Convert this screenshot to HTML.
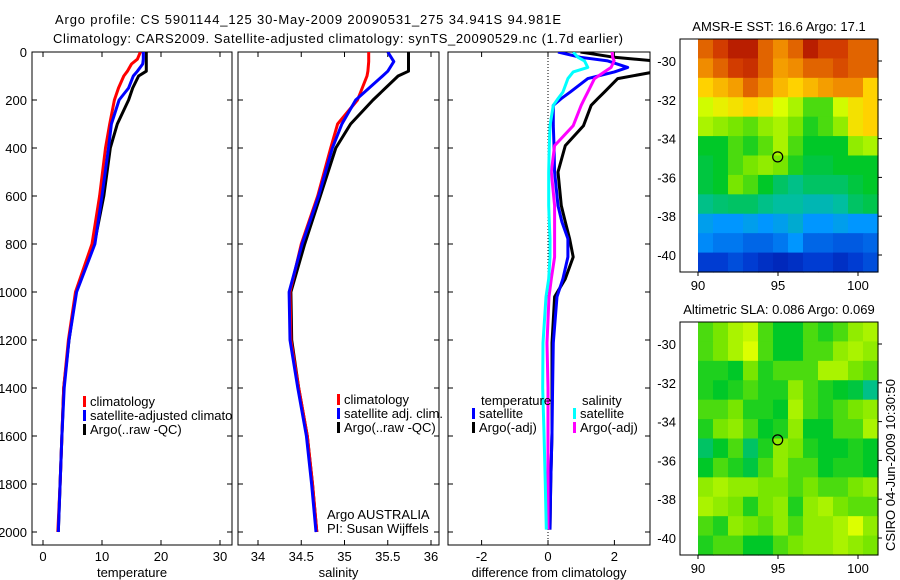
<!DOCTYPE html>
<html><head><meta charset="utf-8">
<style>
html,body{margin:0;padding:0;background:#fff;}
svg{display:block;font-family:"Liberation Sans",sans-serif;}
text{font-size:13px;fill:#000;}
</style></head>
<body>
<svg id="fig" width="900" height="580" viewBox="0 0 900 580" xmlns="http://www.w3.org/2000/svg">
<text x="55" y="24" font-size="14" textLength="506">Argo profile: CS 5901144_125 30-May-2009 20090531_275 34.941S 94.981E</text>
<text x="53" y="43" font-size="14" textLength="570">Climatology: CARS2009. Satellite-adjusted climatology: synTS_20090529.nc (1.7d earlier)</text>
<g id="layer"></g>
</svg>
<script>
// ---- data ----
const tempDepth = [0, 30, 50, 80, 100, 150, 200, 300, 400, 600, 800, 1000, 1200, 1400, 1600, 1800, 2000];
const tempClim  = [16.5, 16.0, 15.0, 14.3, 13.7, 12.8, 12.1, 11.3, 10.6, 9.6, 8.3, 5.5, 4.3, 3.5, 3.2, 2.9, 2.5];
const tempSat   = [17.0, 17.0, 16.9, 16.0, 15.3, 14.5, 12.9, 11.6, 11.1, 10.0, 8.8, 5.7, 4.4, 3.6, 3.2, 2.9, 2.6];
const tempArgo  = [17.5, 17.5, 17.5, 17.5, 16.2, 15.2, 14.5, 12.6, 11.4, 10.3, 8.7, 5.6, 4.4, 3.5, 3.2, 2.9, 2.6];
const salDepth = [0, 40, 80, 100, 200, 300, 400, 600, 800, 1000, 1200, 1400, 1600, 1800, 2000];
const salClim  = [35.28, 35.28, 35.27, 35.26, 35.15, 34.92, 34.84, 34.69, 34.50, 34.37, 34.38, 34.47, 34.57, 34.63, 34.68];
const salSat   = [35.50, 35.57, 35.50, 35.44, 35.13, 34.97, 34.86, 34.70, 34.51, 34.36, 34.37, 34.46, 34.56, 34.62, 34.67];
const salArgo  = [35.74, 35.74, 35.74, 35.62, 35.33, 35.07, 34.90, 34.72, 34.54, 34.38, 34.39, 34.47, 34.57, 34.63, 34.68];
const diffDepth = [0, 22, 37, 64, 83, 111, 167, 194, 222, 307, 390, 500, 640, 708, 778, 854, 945, 1020, 1212, 1400, 1587, 1800, 1990];
const dTempSat  = [0.3, 0.98, 1.8, 2.4, 2.0, 1.2, 0.67, 0.4, 0.16, 0.16, 0.18, 0.2, 0.3, 0.42, 0.6, 0.6, 0.45, 0.27, 0.16, 0.14, 0.12, 0.08, 0.06];
const dTempArgo = [0.98, 2.0, 3.2, 3.2, 3.2, 2.1, 1.7, 1.5, 1.3, 1.07, 0.52, 0.3, 0.4, 0.52, 0.65, 0.76, 0.52, 0.2, 0.12, 0.12, 0.12, 0.08, 0.06];
const dSalSat   = [0.76, 0.9, 1.1, 1.2, 0.76, 0.6, 0.45, 0.3, 0.16, 0.06, 0.04, 0.02, 0.02, 0.04, 0.06, 0.06, 0.02, -0.06, -0.15, -0.16, -0.12, -0.08, -0.05];
const dSalArgo  = [1.93, 1.95, 1.99, 1.9, 1.7, 1.4, 1.2, 1.1, 1.0, 0.76, 0.2, 0.1, 0.2, 0.2, 0.2, 0.2, 0.1, 0.03, -0.03, 0.0, 0.0, 0.0, 0.0];
const depthTicks = [0, 200, 400, 600, 800, 1000, 1200, 1400, 1600, 1800, 2000];
const tempTicks = [0, 10, 20, 30];
const salTicks = [34, 34.5, 35, 35.5, 36];
const diffTicks = [-2, 0, 2];
const latTicks = [-30, -32, -34, -36, -38, -40];
const lonTicks = [90, 95, 100];
const sstGrid = [
 [0.85,0.9,0.95,0.95,0.85,0.8,0.85,0.95,0.9,0.9,0.85,0.85],
 [0.8,0.85,0.9,0.92,0.85,0.78,0.8,0.85,0.85,0.88,0.85,0.85],
 [0.72,0.75,0.78,0.85,0.8,0.75,0.72,0.75,0.78,0.8,0.8,0.72],
 [0.65,0.68,0.7,0.72,0.7,0.66,0.62,0.55,0.55,0.65,0.7,0.72],
 [0.62,0.6,0.58,0.56,0.6,0.62,0.58,0.52,0.55,0.6,0.7,0.72],
 [0.5,0.5,0.55,0.52,0.56,0.62,0.55,0.5,0.5,0.5,0.6,0.62],
 [0.48,0.5,0.55,0.58,0.6,0.58,0.52,0.48,0.48,0.5,0.5,0.5],
 [0.48,0.5,0.58,0.55,0.5,0.45,0.42,0.45,0.45,0.45,0.48,0.5],
 [0.42,0.44,0.45,0.45,0.42,0.4,0.4,0.38,0.38,0.4,0.45,0.47],
 [0.32,0.3,0.3,0.32,0.3,0.32,0.35,0.3,0.3,0.32,0.3,0.3],
 [0.28,0.25,0.25,0.22,0.22,0.25,0.3,0.22,0.22,0.2,0.2,0.22],
 [0.15,0.15,0.18,0.15,0.12,0.1,0.12,0.15,0.15,0.12,0.15,0.18]];
const slaGrid = [
 [0.55,0.58,0.62,0.64,0.55,0.5,0.5,0.55,0.52,0.55,0.6,0.62],
 [0.55,0.58,0.62,0.66,0.55,0.5,0.5,0.55,0.55,0.6,0.62,0.6],
 [0.52,0.52,0.5,0.58,0.52,0.55,0.55,0.55,0.62,0.62,0.58,0.56],
 [0.52,0.5,0.52,0.55,0.52,0.52,0.6,0.55,0.52,0.5,0.48,0.42],
 [0.55,0.55,0.58,0.52,0.52,0.5,0.62,0.55,0.52,0.55,0.58,0.6],
 [0.52,0.58,0.6,0.55,0.5,0.52,0.6,0.5,0.5,0.55,0.55,0.62],
 [0.45,0.5,0.55,0.45,0.52,0.6,0.58,0.52,0.5,0.5,0.52,0.5],
 [0.5,0.55,0.52,0.48,0.55,0.6,0.55,0.55,0.5,0.52,0.52,0.5],
 [0.6,0.62,0.6,0.6,0.58,0.58,0.55,0.58,0.55,0.55,0.58,0.6],
 [0.62,0.6,0.58,0.52,0.58,0.6,0.52,0.6,0.62,0.58,0.56,0.56],
 [0.55,0.52,0.6,0.58,0.56,0.6,0.55,0.6,0.6,0.62,0.66,0.6],
 [0.52,0.55,0.55,0.5,0.5,0.55,0.58,0.6,0.6,0.62,0.6,0.58]];
const argoLon = 94.981, argoLat = -34.941;

// ---- helpers ----
const NS = 'http://www.w3.org/2000/svg';
const layer = document.getElementById('layer');
function mk(tag, attrs, parent) {
  const e = document.createElementNS(NS, tag);
  for (const k in attrs) e.setAttribute(k, attrs[k]);
  (parent || layer).appendChild(e);
  return e;
}
const yD = d => 52 + 0.24 * d;
const PT = 52, PB = 545;

function panel(name, x0, x1, xs, ticks, title) {
  const g = mk('g', {});
  
  
  const r = mk('rect', {x: x0, y: PT, width: x1 - x0, height: PB - PT, fill: 'none', stroke: '#000', 'stroke-width': 1}, g);
  
  
  ticks.forEach(t => {
    const x = xs(t);
    mk('line', {x1: x, x2: x, y1: PT, y2: PT + 5, stroke: '#000'}, g);
    mk('line', {x1: x, x2: x, y1: PB, y2: PB - 5, stroke: '#000'}, g);
    const tx = mk('text', {x: x, y: 561, 'text-anchor': 'middle'}, g);
    
    
    tx.textContent = t;
  });
  depthTicks.forEach(d => {
    mk('line', {x1: x0, x2: x0 + 5, y1: yD(d), y2: yD(d), stroke: '#000'}, g);
    mk('line', {x1: x1, x2: x1 - 5, y1: yD(d), y2: yD(d), stroke: '#000'}, g);
  });
  const at = mk('text', {x: (x0 + x1) / 2, y: 577, 'text-anchor': 'middle'}, g);
  
  
  at.textContent = title;
  return g;
}
function line(g, name, depths, vals, xs, color, w) {
  const pts = depths.map((d, i) => xs(vals[i]).toFixed(1) + ',' + yD(d).toFixed(1)).join(' ');
  const p = mk('polyline', {points: pts, fill: 'none', stroke: color, 'stroke-width': w, 'stroke-linejoin': 'round'}, g);
  
  
}
function legend(g, name, x, y, color, label) {
  mk('rect', {x: x, y: y - 10, width: 3, height: 11, fill: color}, g);
  const t = mk('text', {x: x + 7, y: y}, g);
  
  
  t.textContent = label;
}

// clip
const defs = mk('defs', {});
[['c1', 32, 232], ['c2', 238, 439], ['c3', 448, 650]].forEach(c => {
  const cp = mk('clipPath', {id: c[0]}, defs);
  mk('rect', {x: c[1], y: PT, width: c[2] - c[1], height: PB - PT}, cp);
});

// panel 1 temperature
const xT = v => 43 + 5.9 * v;
const g1 = panel('temperature', 32, 232, xT, tempTicks, 'temperature');
depthTicks.forEach(d => {
  const t = mk('text', {x: 27, y: yD(d) + 5, 'text-anchor': 'end'}, g1);
  
  
  t.textContent = d;
});
const l1 = mk('g', {'clip-path': 'url(#c1)'}, g1);
line(l1, 'temp-argo-line', tempDepth, tempArgo, xT, '#000', 3);
line(l1, 'temp-climatology-line', tempDepth, tempClim, xT, '#f00', 3);
line(l1, 'temp-satellite-line', tempDepth, tempSat, xT, '#00f', 3);
const lg1 = mk('g', {'clip-path': 'url(#c1)'}, g1);
legend(lg1, 'legend-climatology', 83, 406, '#f00', 'climatology');
legend(lg1, 'legend-satellite-adjusted', 83, 420, '#00f', 'satellite-adjusted climatology');
legend(lg1, 'legend-argo', 83, 434, '#000', 'Argo(..raw -QC)');

// panel 2 salinity
const xS = v => 258 + 86.5 * (v - 34);
const g2 = panel('salinity', 238, 439, xS, salTicks, 'salinity');
const l2 = mk('g', {'clip-path': 'url(#c2)'}, g2);
line(l2, 'sal-argo-line', salDepth, salArgo, xS, '#000', 3);
line(l2, 'sal-climatology-line', salDepth, salClim, xS, '#f00', 3);
line(l2, 'sal-satellite-line', salDepth, salSat, xS, '#00f', 3);
legend(g2, 'legend-climatology-2', 337, 404, '#f00', 'climatology');
legend(g2, 'legend-satellite-adj', 337, 418, '#00f', 'satellite adj. clim.');
legend(g2, 'legend-argo-2', 337, 432, '#000', 'Argo(..raw -QC)');
const a1 = mk('text', {x: 327, y: 519}, g2); a1.textContent = 'Argo AUSTRALIA';
 
const a2 = mk('text', {x: 327, y: 533}, g2); a2.textContent = 'PI: Susan Wijffels';
 

// panel 3 difference
const xDf = v => 548 + 33.2 * v;
const g3 = panel('difference', 448, 650, xDf, diffTicks, 'difference from climatology');
const zl = mk('line', {x1: xDf(0), x2: xDf(0), y1: PT, y2: PB, stroke: '#000', 'stroke-dasharray': '1,2'}, g3);
 
const l3 = mk('g', {'clip-path': 'url(#c3)'}, g3);
line(l3, 'diff-temp-argo-line', diffDepth, dTempArgo, xDf, '#000', 3);
line(l3, 'diff-temp-satellite-line', diffDepth, dTempSat, xDf, '#00f', 3);
line(l3, 'diff-sal-argo-line', diffDepth, dSalArgo, xDf, '#f0f', 3);
line(l3, 'diff-sal-satellite-line', diffDepth, dSalSat, xDf, '#0ff', 3);
const h1 = mk('text', {x: 481, y: 405}, g3); h1.textContent = 'temperature';
 
const h2 = mk('text', {x: 582, y: 405}, g3); h2.textContent = 'salinity';
 
legend(g3, 'legend-temp-satellite', 472, 418, '#00f', 'satellite');
legend(g3, 'legend-temp-argo', 472, 432, '#000', 'Argo(-adj)');
legend(g3, 'legend-sal-satellite', 573, 418, '#0ff', 'satellite');
legend(g3, 'legend-sal-argo', 573, 432, '#f0f', 'Argo(-adj)');

// maps
const cmapStops = [[0,0,0,140],[0.15,0,60,210],[0.3,0,150,255],[0.4,0,190,160],[0.5,0,200,40],[0.58,120,230,0],[0.66,220,255,0],[0.72,255,210,0],[0.8,240,140,0],[0.9,210,60,0],[1,160,0,0]];
function cmap(v) {
  v = Math.max(0, Math.min(1, v));
  for (let i = 1; i < cmapStops.length; i++) {
    const a = cmapStops[i - 1], b = cmapStops[i];
    if (v <= b[0]) {
      const t = (v - a[0]) / (b[0] - a[0]);
      return 'rgb(' + [1, 2, 3].map(k => Math.round(a[k] + t * (b[k] - a[k]))).join(',') + ')';
    }
  }
  return 'rgb(160,0,0)';
}
function map(name, top, grid, title) {
  const g = mk('g', {});
  
  
  const fx0 = 680, fx1 = 878, bot = top + 233;
  const xL = lon => 698 + 16 * (lon - 90);
  const yL = lat => top + 22 + 19.4 * (-30 - lat);
  const latTop = -30 + 22 / 19.4, lonR = 90 + (fx1 - 698) / 16;
  const rows = grid.length, cols = grid[0].length;
  const dLat = (latTop - (-30 - (bot - top - 22) / 19.4)) / rows;
  const dLon = (lonR - 90) / cols;
  grid.forEach((row, i) => row.forEach((v, j) => {
    const x = xL(90 + j * dLon), y = yL(latTop - i * dLat);
    const c = mk('rect', {x: x, y: y, width: 16 * dLon + 0.6, height: 19.4 * dLat + 0.6, fill: cmap(v)}, g);
    
    
  }));
  const fr = mk('rect', {x: fx0, y: top, width: fx1 - fx0, height: bot - top, fill: 'none', stroke: '#000'}, g);
   
  latTicks.forEach(l => {
    mk('line', {x1: fx1, x2: fx1 + 4, y1: yL(l), y2: yL(l), stroke: '#000'}, g);
    const t = mk('text', {x: 676, y: yL(l) + 5, 'text-anchor': 'end'}, g);
     
    t.textContent = l;
  });
  lonTicks.forEach(l => {
    mk('line', {x1: xL(l), x2: xL(l), y1: bot, y2: bot + 4, stroke: '#000'}, g);
    const t = mk('text', {x: xL(l), y: bot + 18, 'text-anchor': 'middle'}, g);
     
    t.textContent = l;
  });
  const ci = mk('circle', {cx: xL(argoLon), cy: yL(argoLat), r: 5, fill: 'none', stroke: '#000', 'stroke-width': 1.2}, g);
   
  const tt = mk('text', {x: 779, y: top - 8, 'text-anchor': 'middle'}, g);
   
  tt.textContent = title;
}
map('sst-map', 39, sstGrid, 'AMSR-E SST: 16.6 Argo: 17.1');
map('sla-map', 322, slaGrid, 'Altimetric SLA: 0.086 Argo: 0.069');
const cs = mk('text', {x: 0, y: 0, 'text-anchor': 'middle', transform: 'translate(895,465) rotate(-90)'});
 
cs.textContent = 'CSIRO 04-Jun-2009 10:30:50';
</script>
</body></html>
